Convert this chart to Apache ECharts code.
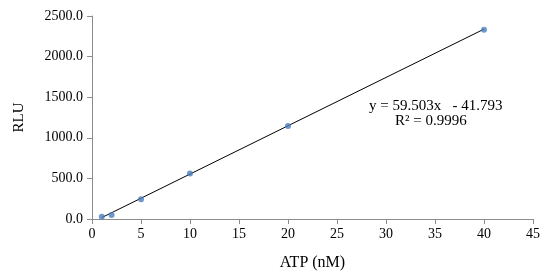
<!DOCTYPE html>
<html>
<head>
<meta charset="utf-8">
<script src="https://cdn.jsdelivr.net/npm/echarts@6/dist/echarts.min.js"></script>
<style>
  html, body { margin: 0; padding: 0; background: #fff; }
  #chart { width: 550px; height: 279px; }
</style>
</head>
<body>
<div id="chart"></div>
<script>
// ATP standard curve
const atpConc = [1, 2, 5, 10, 20, 40];
const rluValues = [28, 49, 242, 560, 1145, 2330];

// linear trendline ends
const trendX = [1, 40];
const trendY = [17.7, 2338.3];

const equationText = "y = 59.503x   - 41.793";
const r2Text = "R² = 0.9996";

const axisColor = "#8c8c8c";
const labelFont = "'Liberation Serif', 'DejaVu Serif', serif";

const chart = echarts.init(document.getElementById("chart"));

const option = {
  animation: false,
  grid: { left: 92, right: 17, top: 16, bottom: 60 },
  xAxis: {
    type: "value",
    min: 0,
    max: 45,
    interval: 5,
    name: "ATP (nM)",
    nameLocation: "middle",
    nameGap: 36,
    nameTextStyle: { fontFamily: labelFont, fontSize: 16, color: "#000" },
    axisLine: { lineStyle: { color: axisColor } },
    axisTick: { show: true, length: 5, lineStyle: { color: axisColor } },
    axisLabel: { fontFamily: labelFont, fontSize: 14, color: "#000", margin: 8 },
    splitLine: { show: false },
  },
  yAxis: {
    type: "value",
    min: 0,
    max: 2500,
    interval: 500,
    name: "RLU",
    nameLocation: "middle",
    nameGap: 65,
    nameTextStyle: { fontFamily: labelFont, fontSize: 15, color: "#000" },
    axisLine: { show: true, lineStyle: { color: axisColor } },
    axisTick: { show: true, length: 5, lineStyle: { color: axisColor } },
    axisLabel: {
      fontFamily: labelFont,
      fontSize: 14,
      color: "#000",
      margin: 9,
      formatter: (v) => v.toFixed(1),
    },
    splitLine: { show: false },
  },
  series: [
    {
      name: "trend",
      type: "line",
      data: trendX.map((x, i) => [x, trendY[i]]),
      symbol: "none",
      lineStyle: { color: "#000", width: 1 },
      z: 2,
    },
    {
      name: "RLU",
      type: "scatter",
      data: atpConc.map((x, i) => [x, rluValues[i]]),
      symbol: "circle",
      symbolSize: 6,
      itemStyle: { color: "#4a7ebb" },
      z: 3,
    },
  ],
  graphic: [
    {
      type: "text",
      left: 369,
      top: 99,
      style: { text: equationText, font: "15px " + labelFont, fill: "#000" },
    },
    {
      type: "text",
      left: 395,
      top: 114,
      style: { text: r2Text, font: "15px " + labelFont, fill: "#000" },
    },
  ],
};

chart.setOption(option);
</script>
</body>
</html>
